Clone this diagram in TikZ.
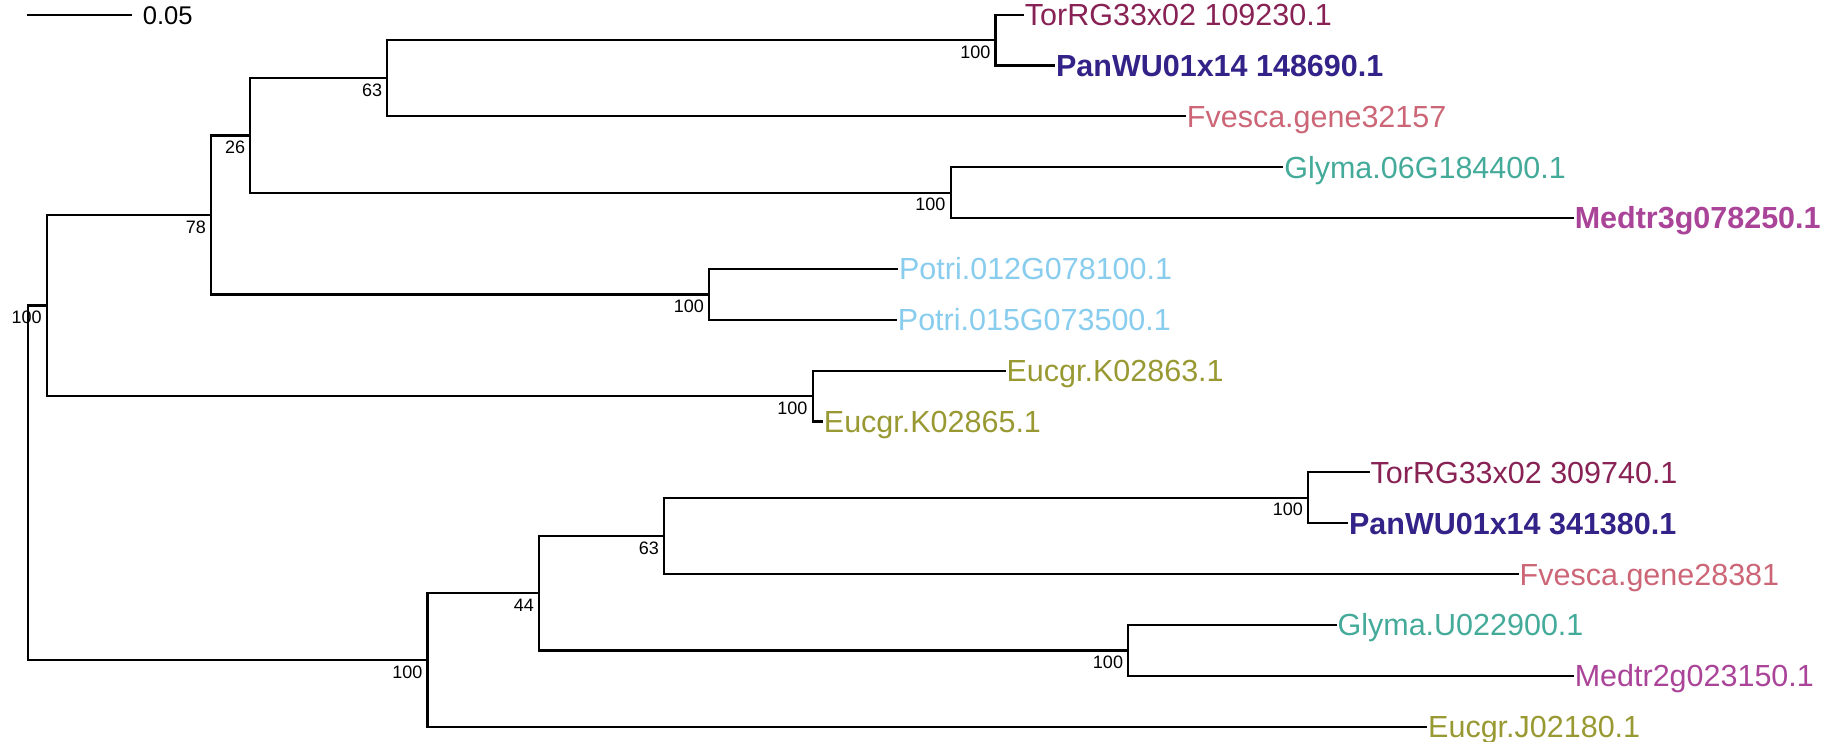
\documentclass[tikz,border=0pt]{standalone}
\usepackage{fontspec}
\setmainfont{Liberation Sans}
\definecolor{wine}{HTML}{882255}
\definecolor{indigo}{HTML}{332288}
\definecolor{rose}{HTML}{CC6677}
\definecolor{teal}{HTML}{44AA99}
\definecolor{purple}{HTML}{AA4499}
\definecolor{cyan}{HTML}{88CCEE}
\definecolor{olive}{HTML}{999933}

\begin{document}
\begin{tikzpicture}[x=0.5pt,y=-0.5pt,line width=1.1pt,
    leaf/.style={anchor=west,inner sep=0pt,text height=10.9pt,text depth=0pt,font=\fontsize{15.25}{18}\selectfont},
    boldleaf/.style={leaf,font=\fontsize{15.25}{18}\selectfont\bfseries},
    boot/.style={anchor=north east,inner sep=0pt,xshift=-2pt,yshift=-2.2pt,font=\fontsize{9}{10}\selectfont}]
            \useasboundingbox (0,0) rectangle (1845,742);
            \coordinate (sbs) at (27.3,15);
            \coordinate (sbe) at (131.7,15);
            \draw (sbs) -- (sbe);
            \node [anchor=west,inner sep=0pt,text height=9.2pt,text depth=0pt,font=\fontsize{12.8}{15}\selectfont] (sbl) at (141.7,15.5) {0.05};
            \node [leaf,text=wine] (tor1) at (1023.8,14.7) {TorRG33x02 109230.1};
            \node [boldleaf,text=indigo] (pan1) at (1055,65.6) {PanWU01x14 148690.1};
            \node [leaf,text=rose] (fve1) at (1185.8,116.4) {Fvesca.gene32157};
            \node [leaf,text=teal] (gly1) at (1283.2,167.3) {Glyma.06G184400.1};
            \node [boldleaf,text=purple] (med1) at (1573.7,218.1) {Medtr3g078250.1};
            \node [leaf,text=cyan] (pot1) at (898,269) {Potri.012G078100.1};
            \node [leaf,text=cyan] (pot2) at (896.8,319.9) {Potri.015G073500.1};
            \node [leaf,text=olive] (euc1) at (1005.5,370.7) {Eucgr.K02863.1};
            \node [leaf,text=olive] (euc2) at (822.8,421.6) {Eucgr.K02865.1};
            \node [leaf,text=wine] (tor2) at (1369.5,472.4) {TorRG33x02 309740.1};
            \node [boldleaf,text=indigo] (pan2) at (1348,523.3) {PanWU01x14 341380.1};
            \node [leaf,text=rose] (fve2) at (1518.6,574.1) {Fvesca.gene28381};
            \node [leaf,text=teal] (gly2) at (1336.5,625) {Glyma.U022900.1};
            \node [leaf,text=purple] (med2) at (1573.7,675.9) {Medtr2g023150.1};
            \node [leaf,text=olive] (euc3) at (1427.1,726.7) {Eucgr.J02180.1};
            \coordinate (ntp1) at (995.5,40.2);
            \coordinate (nros1) at (387.2,78.3);
            \coordinate (ngm1) at (950.6,192.7);
            \coordinate (nsub1) at (250.3,135.5);
            \coordinate (npot) at (709,294.5);
            \coordinate (nup) at (211,215);
            \coordinate (neuc) at (812.6,396.2);
            \coordinate (nclade1) at (46.7,305.6);
            \coordinate (ntp2) at (1307.9,497.9);
            \coordinate (nros2) at (663.9,536);
            \coordinate (ngm2) at (1128.1,650.5);
            \coordinate (nsub2) at (539,593.2);
            \coordinate (nclade2) at (427.4,660);
            \coordinate (root) at (27.7,482.8);
            \draw (ntp1) |- (tor1.west);
            \draw (ntp1) |- (pan1.west);
            \draw (nros1) |- (ntp1);
            \draw (nros1) |- (fve1.west);
            \draw (ngm1) |- (gly1.west);
            \draw (ngm1) |- (med1.west);
            \draw (nsub1) |- (nros1);
            \draw (nsub1) |- (ngm1);
            \draw (npot) |- (pot1.west);
            \draw (npot) |- (pot2.west);
            \draw (nup) |- (nsub1);
            \draw (nup) |- (npot);
            \draw (neuc) |- (euc1.west);
            \draw (neuc) |- (euc2.west);
            \draw (nclade1) |- (nup);
            \draw (nclade1) |- (neuc);
            \draw (ntp2) |- (tor2.west);
            \draw (ntp2) |- (pan2.west);
            \draw (nros2) |- (ntp2);
            \draw (nros2) |- (fve2.west);
            \draw (ngm2) |- (gly2.west);
            \draw (ngm2) |- (med2.west);
            \draw (nsub2) |- (nros2);
            \draw (nsub2) |- (ngm2);
            \draw (nclade2) |- (nsub2);
            \draw (nclade2) |- (euc3.west);
            \draw (root) |- (nclade1);
            \draw (root) |- (nclade2);
            \node [boot] (btp1) at (ntp1) {100};
            \node [boot] (bros1) at (nros1) {63};
            \node [boot] (bgm1) at (ngm1) {100};
            \node [boot] (bsub1) at (nsub1) {26};
            \node [boot] (bpot) at (npot) {100};
            \node [boot] (bup) at (nup) {78};
            \node [boot] (beuc) at (neuc) {100};
            \node [boot] (bclade1) at (nclade1) {100};
            \node [boot] (btp2) at (ntp2) {100};
            \node [boot] (bros2) at (nros2) {63};
            \node [boot] (bgm2) at (ngm2) {100};
            \node [boot] (bsub2) at (nsub2) {44};
            \node [boot] (bclade2) at (nclade2) {100};
        \end{tikzpicture}
\end{document}
